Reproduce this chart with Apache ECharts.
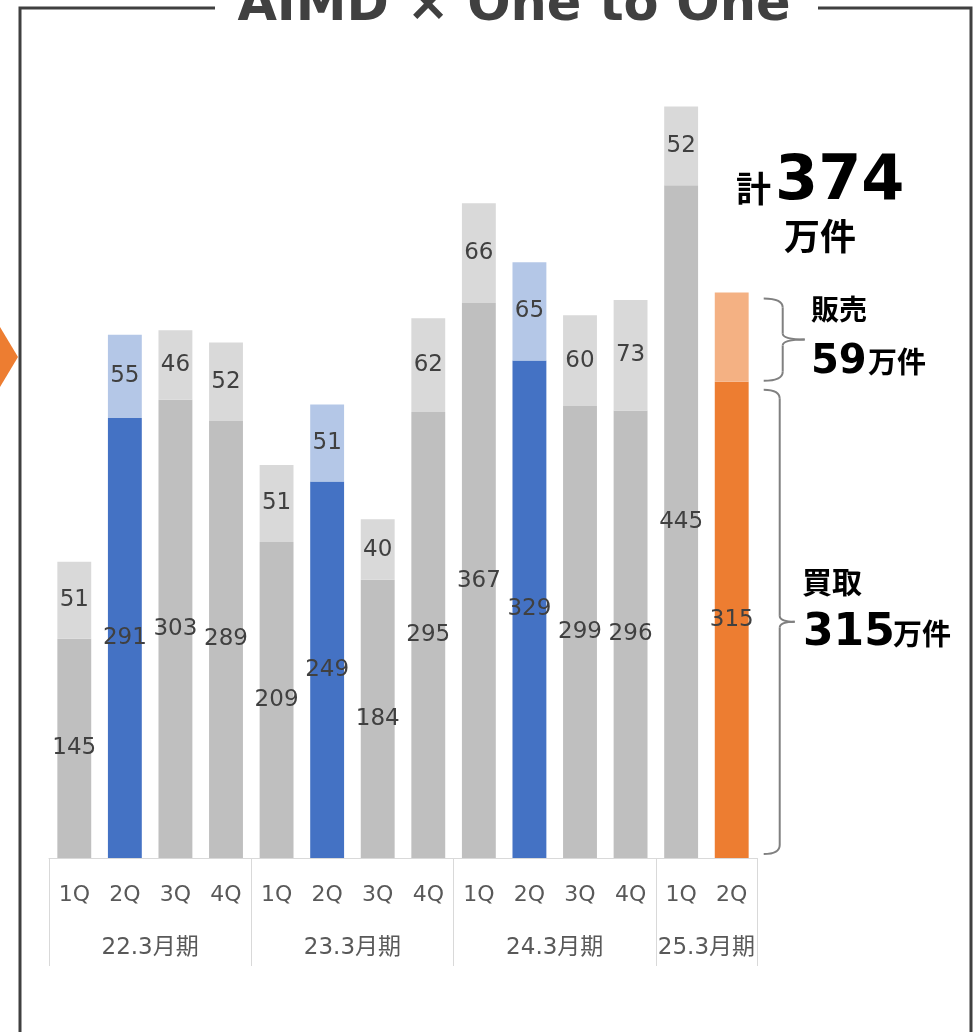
<!DOCTYPE html>
<html>
<head>
<meta charset="utf-8">
<script src="https://cdn.jsdelivr.net/npm/echarts@6/dist/echarts.min.js"></script>
<style>
html,body{margin:0;padding:0;background:#fff;}
#c{width:979px;height:1032px;}
</style>
</head>
<body>
<div id="c"></div>
<script>
// ---- data ----
var quarters = ['1Q','2Q','3Q','4Q','1Q','2Q','3Q','4Q','1Q','2Q','3Q','4Q','1Q','2Q'];
var fiscalYears = ['22.3月期','23.3月期','24.3月期','25.3月期'];
var fyCenters = [2, 6, 10, 13];
var fyBounds = [0, 4, 8, 12, 14];
var kaitori = [145, 291, 303, 289, 209, 249, 184, 295, 367, 329, 299, 296, 445, 315]; // 買取
var hanbai  = [51, 55, 46, 52, 51, 51, 40, 62, 66, 65, 60, 73, 52, 59];              // 販売
var title = 'AIMD × One to One';

var baseColors = [];
var topColors = [];
for (var i = 0; i < quarters.length; i++) {
  if (i === 13) { baseColors.push('#ED7D31'); topColors.push('#F4B183'); }
  else if (i === 1 || i === 5 || i === 9) { baseColors.push('#4472C4'); topColors.push('#B4C7E7'); }
  else { baseColors.push('#BFBFBF'); topColors.push('#D9D9D9'); }
}

var FONT = "'DejaVu Sans','Noto Sans CJK JP',sans-serif";
var chart = echarts.init(document.getElementById('c'), null, {renderer: 'canvas'});

var labelStyle = {show: true, position: 'inside', color: '#404040', fontSize: 23, fontFamily: FONT};

var option = {
  animation: false,
  backgroundColor: '#fff',
  grid: {left: 49, right: 222, top: 102, bottom: 174},
  xAxis: [{
    type: 'category',
    data: quarters,
    axisLine: {show: true, lineStyle: {color: '#D9D9D9', width: 1}},
    axisTick: {show: false},
    axisLabel: {color: '#595959', fontSize: 22, fontFamily: FONT, margin: 26, interval: 0}
  }, {
    type: 'value',
    min: 0, max: 14,
    position: 'bottom',
    axisLine: {show: false},
    splitLine: {show: false},
    axisTick: {show: true, customValues: fyBounds, length: 108, lineStyle: {color: '#D9D9D9', width: 1}},
    axisLabel: {
      show: true, customValues: fyCenters, margin: 79, color: '#595959', fontSize: 23, fontFamily: FONT,
      formatter: function (v) { var k = fyCenters.indexOf(v); return k >= 0 ? fiscalYears[k] : ''; }
    }
  }],
  yAxis: {type: 'value', min: 0, max: 500, show: false, splitLine: {show: false}},
  series: [{
    type: 'bar', stack: 'a', xAxisIndex: 0, barCategoryGap: '33%',
    data: kaitori.map(function (v, i) { return {value: v, itemStyle: {color: baseColors[i]}}; }),
    label: labelStyle
  }, {
    type: 'bar', stack: 'a', xAxisIndex: 0, barCategoryGap: '33%',
    data: hanbai.map(function (v, i) {
      var d = {value: v, itemStyle: {color: topColors[i]}};
      if (i === 13) d.label = {show: false};
      return d;
    }),
    label: labelStyle
  }]
};
chart.setOption(option);

// ---- annotations ----
var last = quarters.length - 1;
var pTop = chart.convertToPixel({xAxisIndex: 0, yAxisIndex: 0}, [last, kaitori[last] + hanbai[last]]);
var pMid = chart.convertToPixel({xAxisIndex: 0, yAxisIndex: 0}, [last, kaitori[last]]);
var pBase = chart.convertToPixel({xAxisIndex: 0, yAxisIndex: 0}, [last, 0]);
var cx = pTop[0];

var braceStyle = {stroke: '#808080', lineWidth: 2, fill: null};
function bz(x1, y1, qx, qy, x2, y2) {
  return {type: 'bezierCurve', shape: {x1: x1, y1: y1, cpx1: qx, cpy1: qy, x2: x2, y2: y2}, style: braceStyle};
}
function ln(x1, y1, x2, y2) {
  return {type: 'line', shape: {x1: x1, y1: y1, x2: x2, y2: y2}, style: braceStyle};
}
function brace(x0, y0, y1, xv, xp) {
  var ym = (y0 + y1) / 2, r = 9, r2 = 6;
  return [
    bz(x0, y0, xv, y0, xv, y0 + r),
    ln(xv, y0 + r, xv, ym - r2),
    bz(xv, ym - r2, xv, ym, xp, ym),
    bz(xp, ym, xv, ym, xv, ym + r2),
    ln(xv, ym + r2, xv, y1 - r),
    bz(xv, y1 - r, xv, y1, x0, y1)
  ];
}

var bold = function (size) { return 'bold ' + size + 'px ' + FONT; };

var elements = [
  // frame
  {type: 'polyline', shape: {points: [[215, 8], [20, 8], [20, 1040]]}, style: {stroke: '#404040', lineWidth: 3, fill: null}},
  {type: 'polyline', shape: {points: [[818, 8], [971, 8], [971, 1040]]}, style: {stroke: '#404040', lineWidth: 3, fill: null}},
  {type: 'text', x: 514, y: 7, style: {text: title, font: 'bold 51px ' + FONT, fill: '#404040', textAlign: 'center', textVerticalAlign: 'middle'}},
  // left arrow
  {type: 'polygon', shape: {points: [[-10, 327], [0, 327], [18, 357], [0, 387], [-10, 387]]}, style: {fill: '#ED7D31'}},
  // total
  {type: 'text', x: 736, y: 210, style: {text: '計', font: bold(35), fill: '#000', textVerticalAlign: 'bottom'}},
  {type: 'text', x: 775, y: 214, style: {text: '374', font: bold(62), fill: '#000', textVerticalAlign: 'bottom'}},
  {type: 'text', x: 820, y: 241, style: {text: '万件', font: bold(36), fill: '#000', textAlign: 'center', textVerticalAlign: 'middle'}},
  // 販売
  {type: 'text', x: 811, y: 313, style: {text: '販売', font: bold(28), fill: '#000', textVerticalAlign: 'middle'}},
  {type: 'text', x: 811, y: 383, style: {text: '59', font: bold(40), fill: '#000', textVerticalAlign: 'bottom'}},
  {type: 'text', x: 868, y: 380, style: {text: '万件', font: bold(29), fill: '#000', textVerticalAlign: 'bottom'}},
  // 買取
  {type: 'text', x: 802, y: 585, style: {text: '買取', font: bold(30), fill: '#000', textVerticalAlign: 'middle'}},
  {type: 'text', x: 803, y: 656, style: {text: '315', font: bold(44), fill: '#000', textVerticalAlign: 'bottom'}},
  {type: 'text', x: 893, y: 652, style: {text: '万件', font: bold(29), fill: '#000', textVerticalAlign: 'bottom'}}
];
elements = elements.concat(brace(cx + 32, pTop[1] + 6, pMid[1] - 1, cx + 51, cx + 73));
elements = elements.concat(brace(cx + 32, pMid[1] + 8, pBase[1] - 4, cx + 48, cx + 63));

chart.setOption({graphic: elements});
</script>
</body>
</html>
